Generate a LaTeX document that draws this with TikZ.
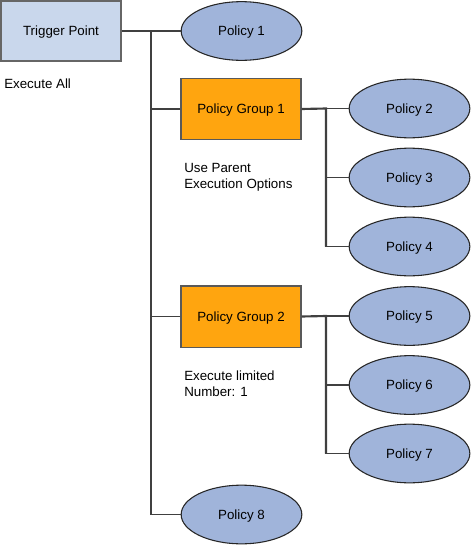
\documentclass[tikz,border=0pt]{standalone}
\usepackage{fontspec}
\setmainfont{Liberation Sans}
\usepackage{xcolor}
\usetikzlibrary{shapes.geometric, positioning}

\definecolor{triggerblue}{RGB}{201,215,236}
\definecolor{policyblue}{RGB}{160,180,218}
\definecolor{grouporange}{RGB}{255,165,15}
\definecolor{linegray}{RGB}{64,64,64}

\tikzset{
  trigger/.style={rectangle, draw=gray!80!black, fill=triggerblue, line width=1pt,
    minimum width=90pt, minimum height=45pt, text depth=0pt, font=\fontsize{10}{12}\selectfont},
  group/.style={rectangle, draw=gray!70!black, fill=grouporange, line width=1pt,
    minimum width=90pt, minimum height=46pt, text depth=0pt, font=\fontsize{10}{12}\selectfont},
  policy/.style={ellipse, draw=black!85, fill=policyblue, line width=0.8pt,
    minimum width=90.5pt, minimum height=44pt, inner sep=0pt, text depth=0pt, font=\fontsize{10}{12}\selectfont},
  note/.style={align=left, inner sep=0pt, font=\fontsize{10}{12}\selectfont},
  trunk/.style={draw=linegray, line width=1.6pt},
  branch/.style={draw=linegray, line width=1pt}
}

\begin{document}
\begin{tikzpicture}[x=0.75pt, y=-0.75pt]
  \useasboundingbox (0,0) rectangle (471,546);
  % main level
  \node[trigger] (tp) at (61,31) {Trigger Point};
  \node[policy] (p1) at (241.5,31) {Policy 1};
  \node[group] (pg1) at (241,109) {Policy Group 1};
  \node[group] (pg2) at (241,316.5) {Policy Group 2};
  \node[policy] (p8) at (241.5,514.5) {Policy 8};
  % group 1
  \node[policy] (p2) at (409.5,108.5) {Policy 2};
  \node[policy] (p3) at (409.5,177.5) {Policy 3};
  \node[policy] (p4) at (409.5,246.5) {Policy 4};
  % group 2
  \node[policy] (p5) at (409.5,316) {Policy 5};
  \node[policy] (p6) at (409.5,385) {Policy 6};
  \node[policy] (p7) at (409.5,453.5) {Policy 7};
  % notes
  \node[note, anchor=north west] (n0) at (4,79) {Execute All};
  \node[note, anchor=north west] (n1) at (184,163) {Use Parent\\Execution Options};
  \node[note, anchor=north west] (n2) at (184,371) {Execute limited\\Number: 1};
  % trunk points
  \coordinate (t0) at (151,31);
  \coordinate (t1) at (151,514.5);
  \coordinate (g1) at (326,108.5);
  \coordinate (g2) at (326,316);
  % connectors
  \draw[branch] (t0) -- (p1.west);
  \draw[branch] (pg1.west) -| (t0);
  \draw[branch] (pg2.west) -| (t0);
  \draw[branch] (p8.west) -| (t0);
  \draw[trunk] (tp.east) -- (t0) -- (t1);
  \draw[branch] (g1) -- (p2.west);
  \draw[branch] (p3.west) -| (g1);
  \draw[branch] (p4.west) -| (g1);
  \draw[trunk] (pg1.east) -- (g1) -- (g1 |- p4.west);
  \draw[branch] (g2) -- (p5.west);
  \draw[branch] (p6.west) -| (g2);
  \draw[branch] (p7.west) -| (g2);
  \draw[trunk] (pg2.east) -- (g2) -- (g2 |- p7.west);
\end{tikzpicture}
\end{document}
